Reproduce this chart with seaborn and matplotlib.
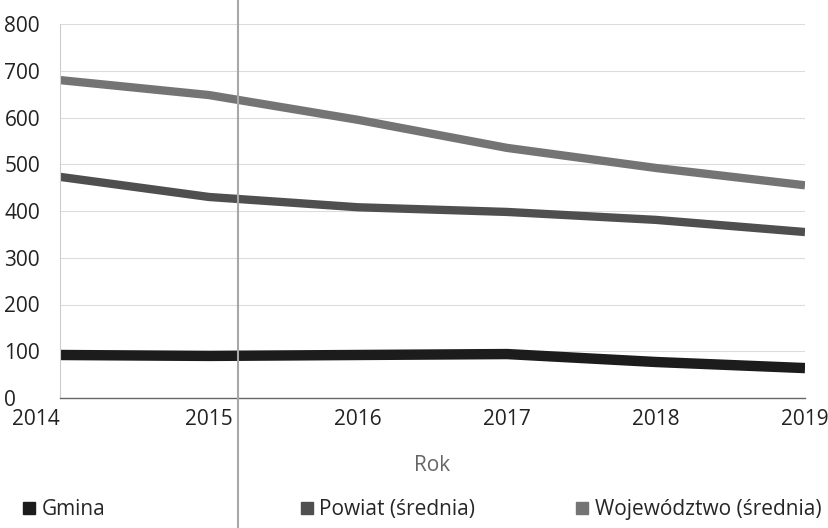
import numpy as np
import pandas as pd
from matplotlib import pyplot as plt
from matplotlib.lines import Line2D
import seaborn as sns

# values
years = [2014, 2015, 2016, 2017, 2018, 2019]
gmina = [92, 90, 92, 94, 77, 64]
powiat = [473, 430, 408, 398, 381, 355]
wojewodztwo = [680, 648, 595, 535, 492, 455]
series_names = ["Gmina", "Powiat (średnia)", "Województwo (średnia)"]
y_ticks = [0, 100, 200, 300, 400, 500, 600, 700, 800]

colors = ["#1c1c1c", "#4f4f4f", "#747474"]
widths = [7.5, 6, 6]

df = pd.DataFrame({
    "Rok": years * 3,
    "value": gmina + powiat + wojewodztwo,
    "series": np.repeat(series_names, len(years)),
})

sns.set_style("white")
plt.rcParams["font.family"] = ["Open Sans", "DejaVu Sans"]
fs = 15

fig = plt.figure(figsize=(8.29, 5.28), dpi=100)
ax = fig.add_axes([60 / 829, 1 - 398 / 528, 745 / 829, 374 / 528])

for name, c, lw in zip(series_names, colors, widths):
    sub = df[df["series"] == name]
    sns.lineplot(data=sub, x="Rok", y="value", color=c, linewidth=lw,
                 ax=ax, legend=False, solid_capstyle="butt")

ax.set_xlim(years[0], years[-1])
ax.set_ylim(0, 800)
ax.set_yticks(y_ticks)
ax.set_xticks(years)
ax.set_xticklabels([str(y) for y in years], fontsize=fs, color="#222222")
ax.set_yticklabels([str(t) for t in y_ticks], fontsize=fs, color="#222222",
                   ha="left")
ax.tick_params(axis="y", length=0, pad=40)
ax.tick_params(axis="x", length=0, pad=8)
ax.get_xticklabels()[0].set_ha("right")

ax.grid(axis="y", color="#dcdcdc", linewidth=0.8)
ax.grid(axis="x", visible=False)
for s in ["top", "right"]:
    ax.spines[s].set_visible(False)
ax.spines["left"].set_color("#cccccc")
ax.spines["left"].set_linewidth(0.8)
ax.spines["bottom"].set_color("#666666")
ax.spines["bottom"].set_linewidth(1.0)

ax.set_ylabel("")
ax.set_xlabel("Rok", fontsize=fs, color="#666666", labelpad=18)

# legend: three entries spread across the bottom
legend_x = [0.0, 0.335, 0.667]
for name, c, lx in zip(series_names, colors, legend_x):
    h = Line2D([], [], marker="s", linestyle="none", color=c, markersize=8)
    fig.legend(handles=[h], labels=[name], loc="lower left",
               bbox_to_anchor=(lx, -0.02), frameon=False, fontsize=fs,
               handletextpad=0.1, handlelength=1.0)

# vertical fold line across the page
fig.add_artist(Line2D([238 / 829, 238 / 829], [0, 1], transform=fig.transFigure,
                      color="#a8a8a8", linewidth=1.5))

fig.savefig("out.png", dpi=100)
